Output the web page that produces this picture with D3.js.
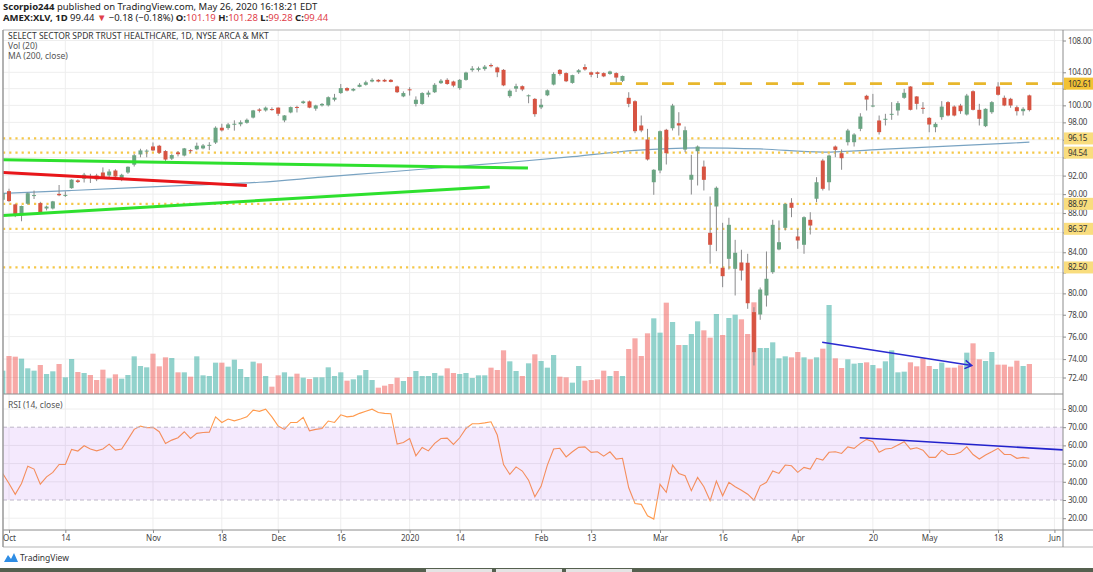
<!DOCTYPE html>
<html>
<head>
<meta charset="utf-8">
<script src="https://cdn.jsdelivr.net/npm/d3@7"></script>
<style>
  body { margin: 0; background: #fff; }
  svg text { font-family: "Noto Sans", sans-serif; }
</style>
</head>
<body>
<svg id="chart" width="1093" height="572"></svg>
<script>
// daily bars from Sep 30 2019 to May 26 2020
const opens = [89.40,90.32,88.91,87.77,88.98,89.83,89.05,88.48,88.48,90.03,89.85,90.64,91.48,91.66,91.85,92.02,92.34,92.02,92.56,91.55,92.34,93.20,94.34,94.67,95.24,95.32,94.72,93.87,94.57,94.22,94.82,94.92,95.02,95.37,95.68,97.38,97.34,97.80,97.78,97.95,98.56,99.51,99.40,99.56,99.73,98.23,99.16,99.81,100.27,100.47,99.61,99.99,100.00,100.67,101.47,102.07,101.77,102.22,102.47,102.87,103.07,103.07,103.07,102.27,101.07,101.92,100.17,100.17,101.27,101.57,102.67,103.07,102.87,102.07,103.07,104.27,104.30,104.40,104.90,104.60,104.30,101.10,102.00,102.30,101.12,100.77,99.76,101.20,102.50,104.30,103.90,102.70,104.00,104.65,104.00,104.00,103.90,103.80,103.90,102.95,100.90,100.49,97.64,96.03,91.28,92.56,97.14,97.32,97.90,94.89,91.55,94.70,92.99,85.96,88.69,82.47,83.35,82.37,82.99,82.96,78.24,78.02,79.80,82.04,84.28,86.47,89.08,85.59,84.75,87.30,89.51,93.66,91.28,95.23,94.48,95.72,95.72,97.25,101.14,99.86,98.22,98.30,98.88,99.39,100.90,102.26,101.06,99.71,98.53,97.44,98.61,100.38,99.86,99.98,98.92,101.69,99.47,97.56,99.19,102.26,100.90,100.78,99.78,99.31,101.19];
const highs = [90.28,90.58,88.98,88.78,90.18,90.38,89.18,88.78,89.28,90.98,90.30,91.60,91.60,92.30,92.20,92.20,92.90,92.70,92.70,92.20,93.00,94.40,94.98,94.92,95.69,95.42,94.82,94.37,94.72,95.07,94.92,95.67,95.52,95.72,97.54,97.84,97.94,98.24,98.24,98.45,99.46,99.66,99.86,99.76,99.76,98.85,99.86,99.96,100.57,100.57,100.07,100.27,101.07,101.37,102.57,102.17,102.07,102.67,102.97,103.27,103.17,103.20,103.17,102.37,101.67,102.17,101.07,101.57,101.77,102.67,103.17,103.27,102.97,103.17,104.07,104.77,104.70,104.90,105.10,104.70,104.40,101.90,102.60,102.40,101.30,100.87,100.77,101.90,104.00,104.40,104.00,103.70,104.40,105.00,104.10,104.10,104.00,104.20,104.00,103.60,101.57,100.60,98.80,97.25,92.70,97.06,97.25,100.18,99.19,97.52,94.30,95.35,93.66,89.75,90.82,86.99,87.51,85.25,84.25,83.85,78.70,80.56,84.08,87.30,87.23,89.00,89.57,86.37,87.66,88.09,91.83,93.85,94.33,95.35,94.90,97.25,96.75,99.07,101.26,101.37,98.80,99.00,100.38,100.50,101.98,102.30,101.10,100.38,98.60,98.00,100.50,100.50,100.00,100.18,101.37,101.80,100.18,99.65,100.50,102.78,101.17,100.90,99.98,99.78,101.28];
const lows = [89.28,89.18,87.58,87.15,88.88,89.48,87.98,88.28,88.38,89.78,89.70,90.58,91.20,91.25,91.20,91.40,91.80,91.80,91.80,91.40,92.20,93.00,94.02,94.02,94.72,94.42,93.62,93.72,94.12,94.12,94.52,94.82,94.92,94.82,95.52,96.94,97.14,97.04,97.54,97.85,98.46,99.16,99.26,99.36,98.76,98.02,99.06,99.16,100.17,99.66,99.36,99.86,99.87,100.47,101.37,101.67,101.67,102.17,102.37,102.77,102.77,102.80,102.77,101.47,100.97,101.17,99.87,100.07,100.97,101.47,102.57,102.47,102.17,101.87,102.97,104.07,104.10,104.20,104.60,103.40,102.30,100.90,101.60,101.70,100.25,98.66,99.56,101.10,102.40,103.60,102.80,102.60,103.80,104.20,103.40,103.30,103.40,103.70,102.60,102.80,99.78,96.75,96.86,93.66,89.93,92.26,93.22,97.06,96.48,94.59,89.96,90.93,90.39,82.86,84.11,80.59,82.30,79.80,81.23,78.55,73.44,77.53,78.76,81.88,84.20,86.20,87.57,84.35,83.85,85.79,89.14,90.39,90.39,94.03,92.64,95.35,95.23,96.98,99.39,99.78,96.60,97.64,98.30,98.80,100.78,99.40,99.51,99.00,96.86,96.86,98.30,98.70,98.70,99.00,98.80,99.40,97.64,97.45,99.00,101.17,99.90,99.71,98.80,98.80,99.28];
const closes = [90.10,89.26,87.87,88.74,90.10,89.90,88.11,88.68,89.23,89.88,89.92,91.56,91.30,92.10,91.80,91.59,91.84,92.45,91.90,92.09,92.97,94.25,94.79,94.77,94.79,94.52,93.77,94.27,94.37,95.02,94.72,95.32,95.35,95.42,97.38,97.07,97.76,97.84,98.01,98.30,99.40,99.36,99.73,99.46,99.01,98.81,99.79,99.76,100.47,99.73,99.99,100.17,100.97,100.92,102.07,101.77,101.97,102.47,102.77,103.07,102.87,102.87,102.82,101.57,101.47,101.87,100.67,101.47,101.52,102.47,102.97,102.57,102.37,103.07,103.97,104.47,104.50,104.70,104.75,104.00,102.40,101.75,102.30,101.90,101.20,98.96,100.07,101.80,103.80,103.80,102.90,103.65,104.25,104.35,103.70,103.80,103.50,104.10,103.35,103.55,100.18,96.98,97.06,93.78,92.64,96.98,94.48,99.98,97.64,97.09,92.09,95.23,91.54,84.75,90.68,81.65,86.78,83.95,82.20,79.07,74.61,80.37,81.40,86.78,85.01,88.97,88.55,85.18,87.57,86.71,91.28,90.57,94.22,94.85,93.92,97.06,96.60,98.68,100.69,99.98,96.87,98.42,99.00,100.26,101.50,99.47,100.18,99.63,97.75,97.83,99.85,98.80,98.80,99.31,101.17,99.47,98.42,99.59,100.38,101.26,99.98,99.98,99.31,99.59,99.44];
// volume, millions of shares
const volumes = [7.0,11.4,11.2,10.6,7.7,7.0,8.7,6.0,6.8,9.0,5.0,10.5,6.6,6.3,5.7,4.2,7.3,4.7,5.9,4.6,5.7,11.3,8.4,8.0,12.1,8.3,11.0,10.8,6.5,6.5,5.2,11.3,5.6,5.4,9.4,9.4,8.2,10.3,7.5,5.1,9.7,9.2,5.4,2.2,5.6,6.5,5.2,6.1,4.9,4.5,5.0,5.0,8.0,5.4,6.5,4.0,4.4,5.6,7.2,4.2,1.9,2.5,3.0,4.9,3.9,5.1,6.9,5.4,5.4,6.3,5.5,7.7,6.3,6.0,6.3,4.8,5.6,5.6,7.9,7.2,13.1,9.8,6.9,5.4,9.2,11.9,9.9,7.9,11.7,5.2,5.0,3.4,8.4,4.0,4.2,4.4,7.0,5.4,6.9,5.4,13.5,16.7,11.4,18.2,22.7,18.4,27.4,21.6,14.7,14.7,18.0,21.8,19.1,16.9,24.0,17.7,22.8,23.8,22.4,18.0,27.5,13.8,13.8,15.5,10.7,11.3,11.0,12.6,11.0,10.4,11.0,13.6,26.7,10.7,7.8,10.4,9.1,9.3,9.5,8.7,7.7,9.8,13.1,6.5,6.7,9.5,8.3,10.7,8.4,7.5,9.4,7.9,7.9,8.6,12.4,15.2,10.4,9.9,12.6,8.8,8.8,8.2,10.0,8.4,9.0];
const rsiValues = [44.6,39.1,33.1,39.1,48.6,47.0,38.7,42.7,45.2,49.5,49.5,57.8,56.9,59.8,58.0,57.0,58.0,60.7,57.4,58.0,63.3,68.8,70.6,69.7,69.9,67.5,61.1,62.9,64.2,67.5,63.8,66.6,67.1,67.3,75.7,72.6,74.5,73.5,74.5,75.7,79.4,78.7,79.9,75.7,70.6,68.8,72.6,72.6,75.4,68.0,68.8,69.3,73.4,72.6,76.8,75.7,76.1,77.6,78.8,79.9,78.1,77.6,77.4,60.7,61.6,63.8,54.3,58.9,57.0,61.1,63.8,64.0,60.5,64.2,69.3,71.9,71.9,72.4,73.0,65.7,49.5,44.1,48.2,45.9,40.9,31.8,37.5,49.2,58.0,58.4,53.7,56.5,58.9,59.2,56.2,56.5,54.1,56.5,52.5,52.9,36.7,28.1,27.6,21.3,19.5,38.6,34.2,49.2,44.6,43.3,35.1,42.4,37.3,29.6,40.4,32.3,39.7,37.3,35.4,33.2,29.9,37.8,39.7,46.0,44.6,49.2,48.8,45.2,47.9,47.0,52.9,51.9,56.2,56.5,55.6,59.2,58.4,61.1,63.3,62.0,56.2,58.0,58.4,60.2,62.0,58.0,58.7,57.4,53.4,53.4,57.4,55.0,55.0,56.2,59.2,55.0,52.5,54.7,56.5,58.4,55.0,55.0,52.9,53.4,52.9];

// 200 day moving average, read at a few bars: [bar, value]
const maPoints = [[0,90.07],[11,90.39],[21,90.69],[31,90.99],[41,91.28],[51,91.83],[61,92.37],[71,92.92],[81,93.47],[91,94.09],[101,94.80],[111,95.09],[121,94.96],[131,94.61],[141,94.94],[151,95.28],[161,95.62],[164,95.72]];

const priceTicks = [108, 104, 102, 100, 98, 96, 94, 92, 90, 88, 86, 84, 82, 80, 78, 76, 74, 72.4];
const rsiTicks = [80, 70, 60, 50, 40, 30, 20];
const supportLevels = [96.15, 94.54, 88.97, 86.37, 82.50];
const resistanceLevel = 102.61;
const resistanceStart = 97;

const timeTicks = [
  ["2019-10-01", "Oct"], ["2019-10-14", "14"], ["2019-11-01", "Nov"], ["2019-11-18", "18"],
  ["2019-12-02", "Dec"], ["2019-12-16", "16"], ["2020-01-02", "2020"], ["2020-01-14", "14"],
  ["2020-02-03", "Feb"], ["2020-02-13", "13"], ["2020-03-02", "Mar"], ["2020-03-16", "16"],
  ["2020-04-01", "Apr"], ["2020-04-20", "20"], ["2020-05-01", "May"], ["2020-05-18", "18"],
  ["2020-06-01", "Jun"]
];

// drawings on the chart: [bar, price]
const trendLines = [
  { from: [0.04, 93.74], to: [83.9, 92.83], color: "#2ee02e" },
  { from: [0.04, 87.75], to: [77.8, 90.76], color: "#2ee02e" },
  { from: [0.04, 92.34], to: [39.0, 90.93], color: "#e8161a" }
];
const volArrow = { from: [130.9, 75.49], to: [154.8, 73.44] };
const rsiTrend = { from: [136.9, 64.2], to: [170, 57.4] };

const holidays = ["2019-11-28", "2019-12-25", "2020-01-01", "2020-01-20", "2020-02-17", "2020-04-10", "2020-05-25"];
const fmt = d3.utcFormat("%Y-%m-%d");
const tradingDays = d3.utcDays(new Date(Date.UTC(2019, 8, 30)), new Date(Date.UTC(2020, 5, 2)))
  .filter(d => d.getUTCDay() % 6 !== 0 && !holidays.includes(fmt(d)))
  .map(fmt);

const bars = opens.map((o, k) => ({
  k, date: tradingDays[k], o, h: highs[k], l: lows[k], c: closes[k], v: volumes[k], rsi: rsiValues[k]
}));

const left = 3, right = 1063, mainTop = 30, mainBot = 394, rsiBot = 530, axisBot = 547;

const svg = d3.select("#chart");

const x = d3.scaleLinear().domain([0, tradingDays.length - 1]).range([2.74, 1054.42]);
const y = d3.scaleLog().domain([72.4, 108]).range([377.5, 40.5]);
const yVol = d3.scaleLinear().domain([0, 30]).range([mainBot, mainBot - 100]);
const yRsi = d3.scaleLinear().domain([20, 80]).range([518.2, 409]);

const upColor = "#6ba583", downColor = "#d75442";
const gridColor = "#eeeeee";

// clip paths
const defs = svg.append("defs");
defs.append("clipPath").attr("id", "mainClip").append("rect")
  .attr("x", left).attr("y", mainTop).attr("width", right - left).attr("height", mainBot - mainTop);
defs.append("clipPath").attr("id", "rsiClip").append("rect")
  .attr("x", left).attr("y", mainBot).attr("width", right - left).attr("height", rsiBot - mainBot);

// header
const header = svg.append("g").style("font-size", "9.5px").attr("fill", "#222");
const h1 = header.append("text").attr("x", 3).attr("y", 10);
h1.append("tspan").attr("font-weight", "bold").text("Scorpio244");
h1.append("tspan").text(" published on TradingView.com, May 26, 2020 16:18:21 EDT");
const h2 = header.append("text").attr("x", 3).attr("y", 21);
h2.append("tspan").attr("font-weight", "bold").text("AMEX:XLV, 1D");
h2.append("tspan").text(" 99.44 ");
h2.append("tspan").attr("fill", "#e0404a").text("▼");
h2.append("tspan").text(" \u22120.18 (\u22120.18%) ");
const last = bars[bars.length - 1];
[["O:", last.o], ["H:", last.h], ["L:", last.l], ["C:", last.c]].forEach(([lab, val]) => {
  h2.append("tspan").attr("font-weight", "bold").text(lab);
  h2.append("tspan").attr("fill", "#e0404a").text(val.toFixed(2) + " ");
});

// gridlines
const grid = svg.append("g");
const tickIdx = timeTicks.map(t => tradingDays.indexOf(t[0]));
grid.selectAll(".vgrid").data(tickIdx).enter().append("line")
  .attr("x1", d => x(d)).attr("x2", d => x(d))
  .attr("y1", mainTop).attr("y2", rsiBot)
  .attr("stroke", gridColor);
grid.selectAll(".hgrid").data(priceTicks).enter().append("line")
  .attr("x1", left).attr("x2", right)
  .attr("y1", d => y(d)).attr("y2", d => y(d))
  .attr("stroke", gridColor);
grid.selectAll(".rgrid").data([80, 60, 50, 40, 20]).enter().append("line")
  .attr("x1", left).attr("x2", right)
  .attr("y1", d => yRsi(d)).attr("y2", d => yRsi(d))
  .attr("stroke", gridColor);

const main = svg.append("g").attr("clip-path", "url(#mainClip)");

// volume
main.selectAll(".vol").data(bars).enter().append("rect")
  .attr("x", d => x(d.k) - 2.6)
  .attr("width", 5.2)
  .attr("y", d => yVol(d.v))
  .attr("height", d => mainBot - yVol(d.v))
  .attr("fill", d => d.c >= d.o ? "rgba(38,166,154,0.5)" : "rgba(239,83,80,0.5)");

// moving average
main.append("path")
  .datum(maPoints)
  .attr("d", d3.line().x(d => x(d[0])).y(d => y(d[1])).curve(d3.curveMonotoneX))
  .attr("fill", "none")
  .attr("stroke", "#79a3c2")
  .attr("stroke-width", 1.2);

// support levels (dotted)
main.selectAll(".level").data(supportLevels).enter().append("line")
  .attr("x1", left).attr("x2", right)
  .attr("y1", d => y(d)).attr("y2", d => y(d))
  .attr("stroke", "#f5c84a")
  .attr("stroke-width", 2.2)
  .attr("stroke-dasharray", "2.2,4");

// candles
const candles = main.selectAll(".candle").data(bars).enter().append("g");
candles.append("line")
  .attr("x1", d => x(d.k)).attr("x2", d => x(d.k))
  .attr("y1", d => y(d.h)).attr("y2", d => y(d.l))
  .attr("stroke", "#8a8a8c");
candles.append("rect")
  .attr("x", d => x(d.k) - 2)
  .attr("width", 4)
  .attr("y", d => y(Math.max(d.o, d.c)))
  .attr("height", d => Math.max(1, y(Math.min(d.o, d.c)) - y(Math.max(d.o, d.c))))
  .attr("fill", d => d.c >= d.o ? upColor : downColor);

// resistance (dashed)
main.append("line")
  .attr("x1", x(resistanceStart)).attr("x2", right)
  .attr("y1", y(resistanceLevel)).attr("y2", y(resistanceLevel))
  .attr("stroke", "#e8b72c")
  .attr("stroke-width", 2.6)
  .attr("stroke-dasharray", "12,14");

// trend lines
main.selectAll(".trend").data(trendLines).enter().append("line")
  .attr("x1", d => x(d.from[0])).attr("y1", d => y(d.from[1]))
  .attr("x2", d => x(d.to[0])).attr("y2", d => y(d.to[1]))
  .attr("stroke", d => d.color)
  .attr("stroke-width", 3);

// arrow on volume
const ax1 = x(volArrow.from[0]), ay1 = y(volArrow.from[1]);
const ax2 = x(volArrow.to[0]), ay2 = y(volArrow.to[1]);
const ang = Math.atan2(ay2 - ay1, ax2 - ax1);
main.append("path")
  .attr("d", `M${ax1},${ay1}L${ax2},${ay2}` +
    `M${ax2 - 8 * Math.cos(ang - 0.55)},${ay2 - 8 * Math.sin(ang - 0.55)}L${ax2},${ay2}` +
    `L${ax2 - 8 * Math.cos(ang + 0.55)},${ay2 - 8 * Math.sin(ang + 0.55)}`)
  .attr("fill", "none")
  .attr("stroke", "#2a2ad0")
  .attr("stroke-width", 1.5);

// legend
const legend = svg.append("g").style("font-size", "8.5px").attr("fill", "#555");
legend.append("text").attr("x", 8).attr("y", 39).attr("fill", "#333").text("SELECT SECTOR SPDR TRUST HEALTHCARE, 1D, NYSE ARCA & MKT");
legend.append("text").attr("x", 8).attr("y", 49).text("Vol (20)");
legend.append("text").attr("x", 8).attr("y", 59).text("MA (200, close)");

// RSI pane
const rsiG = svg.append("g").attr("clip-path", "url(#rsiClip)");
rsiG.append("path")
  .datum(bars)
  .attr("d", d3.line().x(d => x(d.k)).y(d => yRsi(d.rsi)))
  .attr("fill", "none")
  .attr("stroke", "#ff9a4d")
  .attr("stroke-width", 1.1);
rsiG.append("rect")
  .attr("x", left).attr("width", right - left)
  .attr("y", yRsi(70)).attr("height", yRsi(30) - yRsi(70))
  .attr("fill", "rgba(150,40,240,0.1)");
rsiG.selectAll(".band").data([70, 30]).enter().append("line")
  .attr("x1", left).attr("x2", right)
  .attr("y1", d => yRsi(d)).attr("y2", d => yRsi(d))
  .attr("stroke", "#bdb6c8")
  .attr("stroke-dasharray", "4,3");
rsiG.append("line")
  .attr("x1", x(rsiTrend.from[0])).attr("y1", yRsi(rsiTrend.from[1]))
  .attr("x2", x(rsiTrend.to[0])).attr("y2", yRsi(rsiTrend.to[1]))
  .attr("stroke", "#2222cc")
  .attr("stroke-width", 1.6);
svg.append("text").attr("x", 8).attr("y", 408).style("font-size", "8.5px").attr("fill", "#555").text("RSI (14, close)");

// frame
const frame = svg.append("g").attr("stroke", "#b5b5b5").attr("fill", "none");
frame.append("line").attr("x1", left).attr("x2", 1093).attr("y1", mainTop).attr("y2", mainTop);
frame.append("line").attr("x1", left).attr("x2", right).attr("y1", mainBot).attr("y2", mainBot).attr("stroke", "#8c8c8c");
frame.append("line").attr("x1", left).attr("x2", 1093).attr("y1", rsiBot).attr("y2", rsiBot).attr("stroke", "#8c8c8c");
frame.append("line").attr("x1", left).attr("x2", 1093).attr("y1", axisBot).attr("y2", axisBot);
frame.append("line").attr("x1", left).attr("x2", left).attr("y1", mainTop).attr("y2", axisBot).attr("stroke", "#999").attr("stroke-width", 1.5);

// price axis; plain ticks that sit under a level label are left without text
const allLevels = supportLevels.map(p => ({ p, fill: "#f9dd7e" })).concat([{ p: resistanceLevel, fill: "#f2c234" }]);
const underLabel = v => allLevels.some(l => Math.abs(y(l.p) - y(v)) < 7);
const axisFont = { "font-size": "8px", "letter-spacing": "-0.3px" };
const priceAxis = svg.append("g")
  .attr("transform", `translate(${right},0)`)
  .call(d3.axisRight(y).tickValues(priceTicks)
    .tickFormat(d => underLabel(d) ? "" : d3.format(".2f")(d)).tickSize(3).tickPadding(2));
priceAxis.select(".domain").attr("d", `M0,${mainTop}V${axisBot}`).attr("stroke", "#8c8c8c");
priceAxis.selectAll(".tick line").attr("stroke", "#8c8c8c");
priceAxis.selectAll("text").style("font-size", axisFont["font-size"]).style("letter-spacing", axisFont["letter-spacing"]).attr("fill", "#444");

// level labels
const levelLabels = svg.append("g");
levelLabels.selectAll("rect").data(allLevels).enter().append("rect")
  .attr("x", right + 1).attr("width", 29)
  .attr("y", d => y(d.p) - 6).attr("height", 12)
  .attr("fill", d => d.fill);
levelLabels.selectAll("text").data(allLevels).enter().append("text")
  .attr("x", right + 5).attr("y", d => y(d.p) + 3)
  .style("font-size", axisFont["font-size"]).style("letter-spacing", axisFont["letter-spacing"])
  .attr("fill", "#333")
  .text(d => d.p.toFixed(2));

// RSI axis
const rsiAxis = svg.append("g")
  .attr("transform", `translate(${right},0)`)
  .call(d3.axisRight(yRsi).tickValues(rsiTicks).tickFormat(d3.format(".2f")).tickSize(3).tickPadding(2));
rsiAxis.select(".domain").remove();
rsiAxis.selectAll(".tick line").attr("stroke", "#8c8c8c");
rsiAxis.selectAll("text").style("font-size", axisFont["font-size"]).style("letter-spacing", axisFont["letter-spacing"]).attr("fill", "#444");

// time axis
const timeAxis = svg.append("g")
  .attr("transform", `translate(0,${rsiBot})`)
  .call(d3.axisBottom(x).tickValues(tickIdx).tickFormat((d, i) => timeTicks[i][1]).tickSize(3).tickPadding(2));
timeAxis.select(".domain").remove();
timeAxis.selectAll(".tick line").attr("stroke", "#8c8c8c");
timeAxis.selectAll("text").style("font-size", "8px").attr("fill", "#444");

// footer logo
const logo = svg.append("g").attr("transform", "translate(4,552)");
logo.append("path").attr("d", "M0,10 L4,3 L7,7 L10,1 L14,10 Z").attr("fill", "#2f8de4");
logo.append("text").attr("x", 16).attr("y", 9).style("font-size", "8.5px").attr("fill", "#333").text("TradingView");

// bottom strip
svg.append("rect").attr("x", 0).attr("y", 568).attr("width", 1093).attr("height", 4).attr("fill", "#55604f");
svg.selectAll(".tab").data([426, 496, 566]).enter().append("rect")
  .attr("x", d => d).attr("y", 569).attr("width", 66).attr("height", 3).attr("fill", "#e4e4e4");
</script>
</body>
</html>
